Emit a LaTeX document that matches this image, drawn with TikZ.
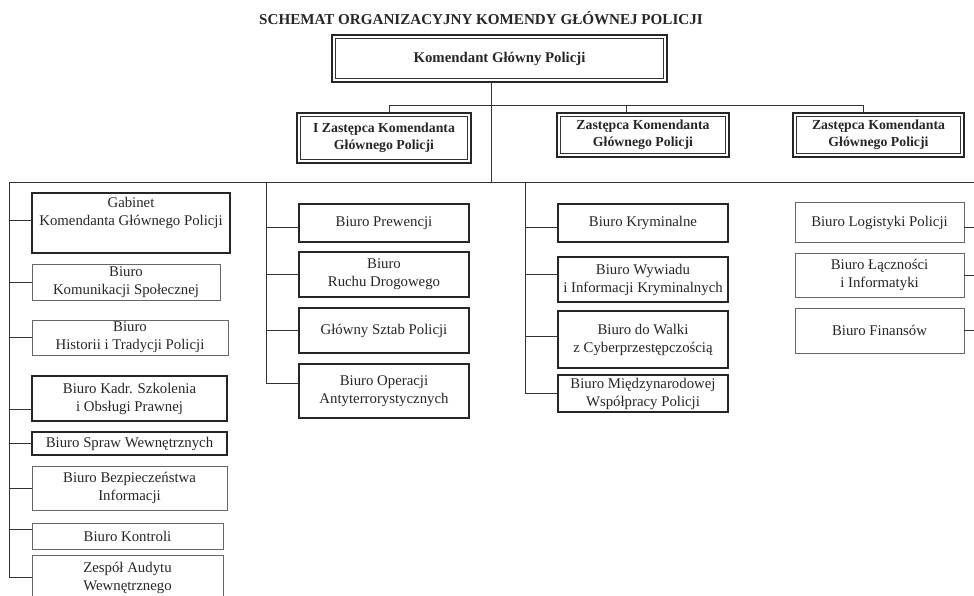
\documentclass[tikz,border=0pt]{standalone}
\usepackage{fontspec}
\setmainfont{Liberation Serif}
\begin{document}
\begin{tikzpicture}[x=1pt,y=-1pt,
  every node/.style={inner sep=0pt, outer sep=0pt, text=black!85},
  conn/.style={draw=black!80, line width=0.9pt},
  ubox/.style={draw, anchor=north west, align=center, font=\fontsize{14.8}{18}\selectfont},
  tbox/.style={ubox, draw=black!85, line width=1.6pt},
  lbox/.style={ubox, draw=black!60, line width=1pt},
  dbox/.style={draw=black!85, anchor=north west, align=center, line width=1.6pt, font=\bfseries\fontsize{13.8}{17}\selectfont},
  inner/.style={draw=black!80, line width=0.7pt},
  titlef/.style={font=\bfseries\fontsize{15.1}{17}\selectfont}
]
\useasboundingbox (0,0) rectangle (974,596);
\fill[white] (0,0) rectangle (974,596);

\node[titlef] (title) at (481,18) {SCHEMAT ORGANIZACYJNY KOMENDY GŁÓWNEJ POLICJI};

\node[dbox, font=\bfseries\fontsize{14.8}{18}\selectfont, minimum width=335pt, minimum height=47pt] (kgp) at (332,35) {Komendant Główny Policji};
\node[dbox, minimum width=174pt, minimum height=50pt] (d1) at (297,113) {I Zastępca Komendanta\\Głównego Policji};
\node[dbox, minimum width=172pt, minimum height=44pt] (d2) at (557,113) {Zastępca Komendanta\\Głównego Policji};
\node[dbox, minimum width=171pt, minimum height=44pt] (d3) at (793,113) {Zastępca Komendanta\\Głównego Policji};
\foreach \n in {kgp,d1,d2,d3}
  \draw[inner] ([shift={(3.5pt,-3.5pt)}]\n.north west) rectangle ([shift={(-3.5pt,3.5pt)}]\n.south east);

% column 1
\node[tbox, minimum width=198pt, minimum height=60pt] (gab) at (32,193) {Gabinet\\Komendanta Głównego Policji\\\strut};
\node[lbox, minimum width=188pt, minimum height=36pt] (kom) at (32,264) {Biuro\\Komunikacji Społecznej};
\node[lbox, minimum width=196pt, minimum height=35pt] (his) at (32,320) {Biuro\\Historii i Tradycji Policji};
\node[tbox, minimum width=195pt, minimum height=45pt] (kad) at (32,376) {Biuro Kadr. Szkolenia\\i Obsługi Prawnej};
\node[tbox, minimum width=195pt, minimum height=23pt] (spr) at (32,432) {Biuro Spraw Wewnętrznych};
\node[lbox, minimum width=195pt, minimum height=44pt] (bez) at (32,466) {Biuro Bezpieczeństwa\\Informacji};
\node[lbox, minimum width=191pt, minimum height=26pt] (kon) at (32,523) {Biuro Kontroli};
\node[lbox, minimum width=191pt, minimum height=45pt] (zes) at (32,555) {Zespół Audytu\\Wewnętrznego};

% column 2
\node[tbox, minimum width=170pt, minimum height=38pt] (pre) at (299,204) {Biuro Prewencji};
\node[tbox, minimum width=170pt, minimum height=45pt] (ruc) at (299,252) {Biuro\\Ruchu Drogowego};
\node[tbox, minimum width=170pt, minimum height=45pt] (szt) at (299,308) {Główny Sztab Policji};
\node[tbox, minimum width=170pt, minimum height=54pt] (ope) at (299,364) {Biuro Operacji\\Antyterrorystycznych};

% column 3
\node[tbox, minimum width=170pt, minimum height=38pt] (kry) at (558,204) {Biuro Kryminalne};
\node[tbox, minimum width=170pt, minimum height=45pt] (wyw) at (558,257) {Biuro Wywiadu\\i Informacji Kryminalnych};
\node[tbox, minimum width=170pt, minimum height=57pt] (wal) at (558,311) {Biuro do Walki\\z Cyberprzestępczością};
\node[tbox, minimum width=170pt, minimum height=37pt] (mie) at (558,375) {Biuro Międzynarodowej\\Współpracy Policji};

% column 4
\node[lbox, minimum width=169pt, minimum height=39pt] (log) at (795,203) {Biuro Logistyki Policji};
\node[lbox, minimum width=169pt, minimum height=44pt] (lac) at (795,253) {Biuro Łączności\\i Informatyki};
\node[lbox, minimum width=169pt, minimum height=45pt] (fin) at (795,308) {Biuro Finansów};

% bus coordinates
\coordinate (t1) at (389,105);
\coordinate (t2) at (626,105);
\coordinate (t3) at (863,105);
\coordinate (hub) at (491,182);
\coordinate (busL) at (9,182);
\coordinate (busR) at (974,182);
\coordinate (c2) at (266,182);
\coordinate (c3) at (525,182);

% top connectors
\draw[conn] (hub |- kgp.south) -- (hub);
\draw[conn] (t1) -- (t3);
\draw[conn] (t1) -- (t1 |- d1.north);
\draw[conn] (t2) -- (t2 |- d2.north);
\draw[conn] (t3) -- (t3 |- d3.north);
\draw[conn] (busL) -- (busR);

% column 1 spine and branches
\draw[conn] (busL) -- (busL |- zes.west);
\draw[conn] ([yshift=3pt]gab.west) -- ([yshift=3pt]busL |- gab.west);
\draw[conn] (kom.west) -- (busL |- kom.west);
\draw[conn] (his.west) -- (busL |- his.west);
\draw[conn] ([yshift=-10.5pt]kad.west) -- ([yshift=-10.5pt]busL |- kad.west);
\draw[conn] (spr.west) -- (busL |- spr.west);
\draw[conn] (bez.west) -- (busL |- bez.west);
\draw[conn] ([yshift=7pt]kon.west) -- ([yshift=7pt]busL |- kon.west);
\draw[conn] (zes.west) -- (busL |- zes.west);

% column 2
\draw[conn] (c2) -- ([yshift=8pt]c2 |- ope.west);
\draw[conn] ([yshift=-4pt]pre.west) -- ([yshift=-4pt]c2 |- pre.west);
\draw[conn] (ruc.west) -- (c2 |- ruc.west);
\draw[conn] (szt.west) -- (c2 |- szt.west);
\draw[conn] ([yshift=8pt]ope.west) -- ([yshift=8pt]c2 |- ope.west);

% column 3
\draw[conn] (c3) -- (c3 |- mie.west);
\draw[conn] ([yshift=-4pt]kry.west) -- ([yshift=-4pt]c3 |- kry.west);
\draw[conn] ([yshift=5.5pt]wyw.west) -- ([yshift=5.5pt]c3 |- wyw.west);
\draw[conn] ([yshift=3.5pt]wal.west) -- ([yshift=3.5pt]c3 |- wal.west);
\draw[conn] (mie.west) -- (c3 |- mie.west);

% column 4
\draw[conn] ([yshift=-4.5pt]log.east) -- ([yshift=-4.5pt]busR |- log.east);
\draw[conn] (lac.east) -- (busR |- lac.east);
\draw[conn] (fin.east) -- (busR |- fin.east);
\end{tikzpicture}
\end{document}
